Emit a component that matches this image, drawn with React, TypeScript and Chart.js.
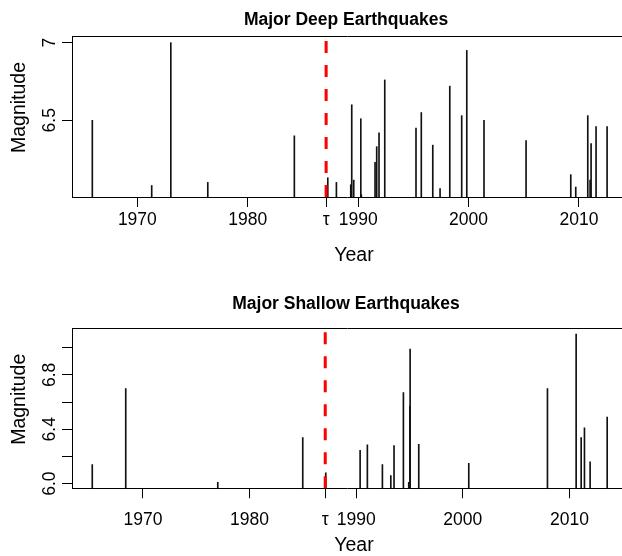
import React, { useEffect, useRef } from 'react';
import { Chart, registerables } from 'chart.js';

Chart.register(...registerables);

const TAU = 1987.1;
const xTickValues = [1970, 1980, TAU, 1990, 2000, 2010];

const deepYears = [1965.92, 1971.3, 1973.03, 1976.38, 1984.22, 1987.25, 1988.03, 1989.33, 1989.42, 1989.6, 1990.24, 1990.29, 1991.53, 1991.68, 1991.89, 1992.41, 1995.24, 1995.72, 1996.76, 1997.42, 1998.3, 1999.38, 1999.84, 2001.4, 2005.21, 2009.26, 2009.71, 2010.8, 2011.01, 2011.1, 2011.55, 2012.55];
const deepMags = [6.5, 6.08, 7.0, 6.1, 6.4, 6.13, 6.1, 6.085, 6.6, 6.115, 6.51, 6.02, 6.23, 6.33, 6.42, 6.76, 6.45, 6.55, 6.34, 6.06, 6.72, 6.53, 6.95, 6.5, 6.37, 6.15, 6.07, 6.53, 6.115, 6.35, 6.46, 6.46];

const shallowYears = [1965.25, 1968.39, 1977.02, 1984.99, 1987.15, 1990.37, 1991.05, 1992.46, 1993.25, 1993.55, 1994.43, 1994.93, 1995.04, 1995.06, 1995.87, 2000.56, 2007.94, 2010.63, 2011.1, 2011.41, 2011.94, 2013.54];
const shallowMags = [6.14, 6.7, 6.01, 6.34, 6.08, 6.245, 6.285, 6.14, 6.06, 6.28, 6.67, 6.01, 6.57, 6.99, 6.29, 6.15, 6.7, 7.1, 6.34, 6.41, 6.16, 6.49];

const deepYTicks = [6.5, 7.0];
const deepYLabels = ['6.5', '7'];
const shallowYTicks = [6.0, 6.2, 6.4, 6.6, 6.8, 7.0];
const shallowYLabels = ['6.0', '', '6.4', '', '6.8', ''];

const FONT = "'Liberation Sans', Arial, Helvetica, sans-serif";

type Panel = {
  title: string;
  years: number[];
  mags: number[];
  xMin: number;
  xMax: number;
  yMin: number;
  yMax: number;
  yTicks: number[];
  yLabels: string[];
  areaTop: number;
  xScaleHeight: number;
  xTickPad: number;
  titleY: number;
  yearY: number;
};

const panels: Panel[] = [
  {
    title: 'Major Deep Earthquakes',
    years: deepYears,
    mags: deepMags,
    xMin: 1964.08,
    xMax: 2013.9,
    yMin: 6.006,
    yMax: 7.043,
    yTicks: deepYTicks,
    yLabels: deepYLabels,
    areaTop: 36,
    xScaleHeight: 81,
    xTickPad: 3,
    titleY: 20,
    yearY: 256,
  },
  {
    title: 'Major Shallow Earthquakes',
    years: shallowYears,
    mags: shallowMags,
    xMin: 1963.35,
    xMax: 2014.93,
    yMin: 5.966,
    yMax: 7.143,
    yTicks: shallowYTicks,
    yLabels: shallowYLabels,
    areaTop: 50.3,
    xScaleHeight: 67.7,
    xTickPad: 11,
    titleY: 26,
    yearY: 268,
  },
];

const framePlugin = {
  id: 'frameTop',
  afterDraw(chart: any) {
    const { ctx, chartArea: a } = chart;
    ctx.save();
    ctx.strokeStyle = '#000';
    ctx.lineWidth = 1;
    const y = Math.round(a.top) + 0.5;
    ctx.beginPath();
    ctx.moveTo(a.left, y);
    ctx.lineTo(a.right + 2, y);
    ctx.stroke();
    ctx.restore();
  },
};

function makeTextPlugin(p: Panel) {
  return {
    id: 'panelText',
    afterDraw(chart: any) {
      const { ctx, chartArea: a } = chart;
      const cx = (a.left + a.right) / 2;
      ctx.save();
      ctx.fillStyle = '#000';
      ctx.textAlign = 'center';
      ctx.textBaseline = 'middle';
      ctx.font = `bold 17.5px ${FONT}`;
      ctx.fillText(p.title, cx - 1, p.titleY);
      ctx.font = `19.5px ${FONT}`;
      ctx.fillText('Year', cx + 7, p.yearY);
      ctx.translate(19.5, (a.top + a.bottom) / 2 - 9);
      ctx.rotate(-Math.PI / 2);
      ctx.fillText('Magnitude', 0, 0);
      ctx.restore();
    },
  };
}

function makeConfig(p: Panel): any {
  const spikes = p.years.map((yr, i) => ({ x: yr, y: [p.yMin - 0.1, p.mags[i]] }));
  return {
    type: 'bar',
    data: {
      datasets: [
        {
          type: 'line',
          data: [
            { x: TAU, y: p.yMin },
            { x: TAU, y: p.yMax },
          ],
          borderColor: '#ff0000',
          borderWidth: 3,
          borderDash: [12, 12],
          pointRadius: 0,
          fill: false,
          order: 1,
        },
        {
          type: 'bar',
          data: spikes,
          backgroundColor: '#111',
          borderWidth: 0,
          barThickness: 1,
          order: 2,
        },
      ],
    },
    options: {
      responsive: false,
      animation: false,
      devicePixelRatio: 1,
      layout: { padding: { top: p.areaTop, left: 0, right: 0, bottom: 0 }, autoPadding: false },
      plugins: {
        legend: { display: false },
        tooltip: { enabled: false },
        title: { display: false },
      },
      scales: {
        x: {
          type: 'linear',
          min: p.xMin,
          max: p.xMax,
          offset: false,
          afterBuildTicks: (scale: any) => {
            scale.ticks = xTickValues.map((v) => ({ value: v }));
          },
          afterFit: (scale: any) => {
            scale.height = p.xScaleHeight;
            scale.paddingLeft = 0;
            scale.paddingRight = 0;
          },
          ticks: {
            autoSkip: false,
            maxRotation: 0,
            minRotation: 0,
            padding: p.xTickPad,
            color: '#000',
            font: { family: FONT, size: 17.5 },
            callback: (v: number) => (Math.abs(v - TAU) < 1e-6 ? '\u03c4' : String(v)),
          },
          grid: {
            display: true,
            drawOnChartArea: false,
            drawTicks: true,
            tickLength: 10,
            color: '#000',
            lineWidth: 1,
            offset: false,
          },
          border: { display: true, color: '#000', width: 1 },
          title: { display: false },
        },
        y: {
          type: 'linear',
          min: p.yMin,
          max: p.yMax,
          afterBuildTicks: (scale: any) => {
            scale.ticks = p.yTicks.map((v) => ({ value: v }));
          },
          afterFit: (scale: any) => {
            scale.width = 72;
            scale.paddingTop = 0;
            scale.paddingBottom = 0;
          },
          ticks: {
            autoSkip: false,
            minRotation: 90,
            maxRotation: 90,
            crossAlign: 'center',
            padding: 0,
            color: '#000',
            font: { family: FONT, size: 17.5 },
            callback: (_v: number, i: number) => p.yLabels[i],
          },
          grid: {
            display: true,
            drawOnChartArea: false,
            drawTicks: true,
            tickLength: 10,
            color: '#000',
            lineWidth: 1,
          },
          border: { display: true, color: '#000', width: 1 },
          title: { display: false },
        },
      },
    },
    plugins: [framePlugin, makeTextPlugin(p)],
  };
}

function PanelChart({ panel }: { panel: Panel }) {
  const ref = useRef<HTMLCanvasElement | null>(null);
  useEffect(() => {
    if (!ref.current) return;
    const chart = new Chart(ref.current, makeConfig(panel));
    return () => chart.destroy();
  }, [panel]);
  return (
    <canvas
      ref={ref}
      width={622}
      height={278}
      style={{ display: 'block', width: 622, height: 278 }}
    />
  );
}

export default function App() {
  return (
    <div style={{ position: 'fixed', left: 0, top: 0, width: 622, height: 556, background: '#fff', overflow: 'hidden' }}>
      {panels.map((p) => (
        <PanelChart key={p.title} panel={p} />
      ))}
    </div>
  );
}
